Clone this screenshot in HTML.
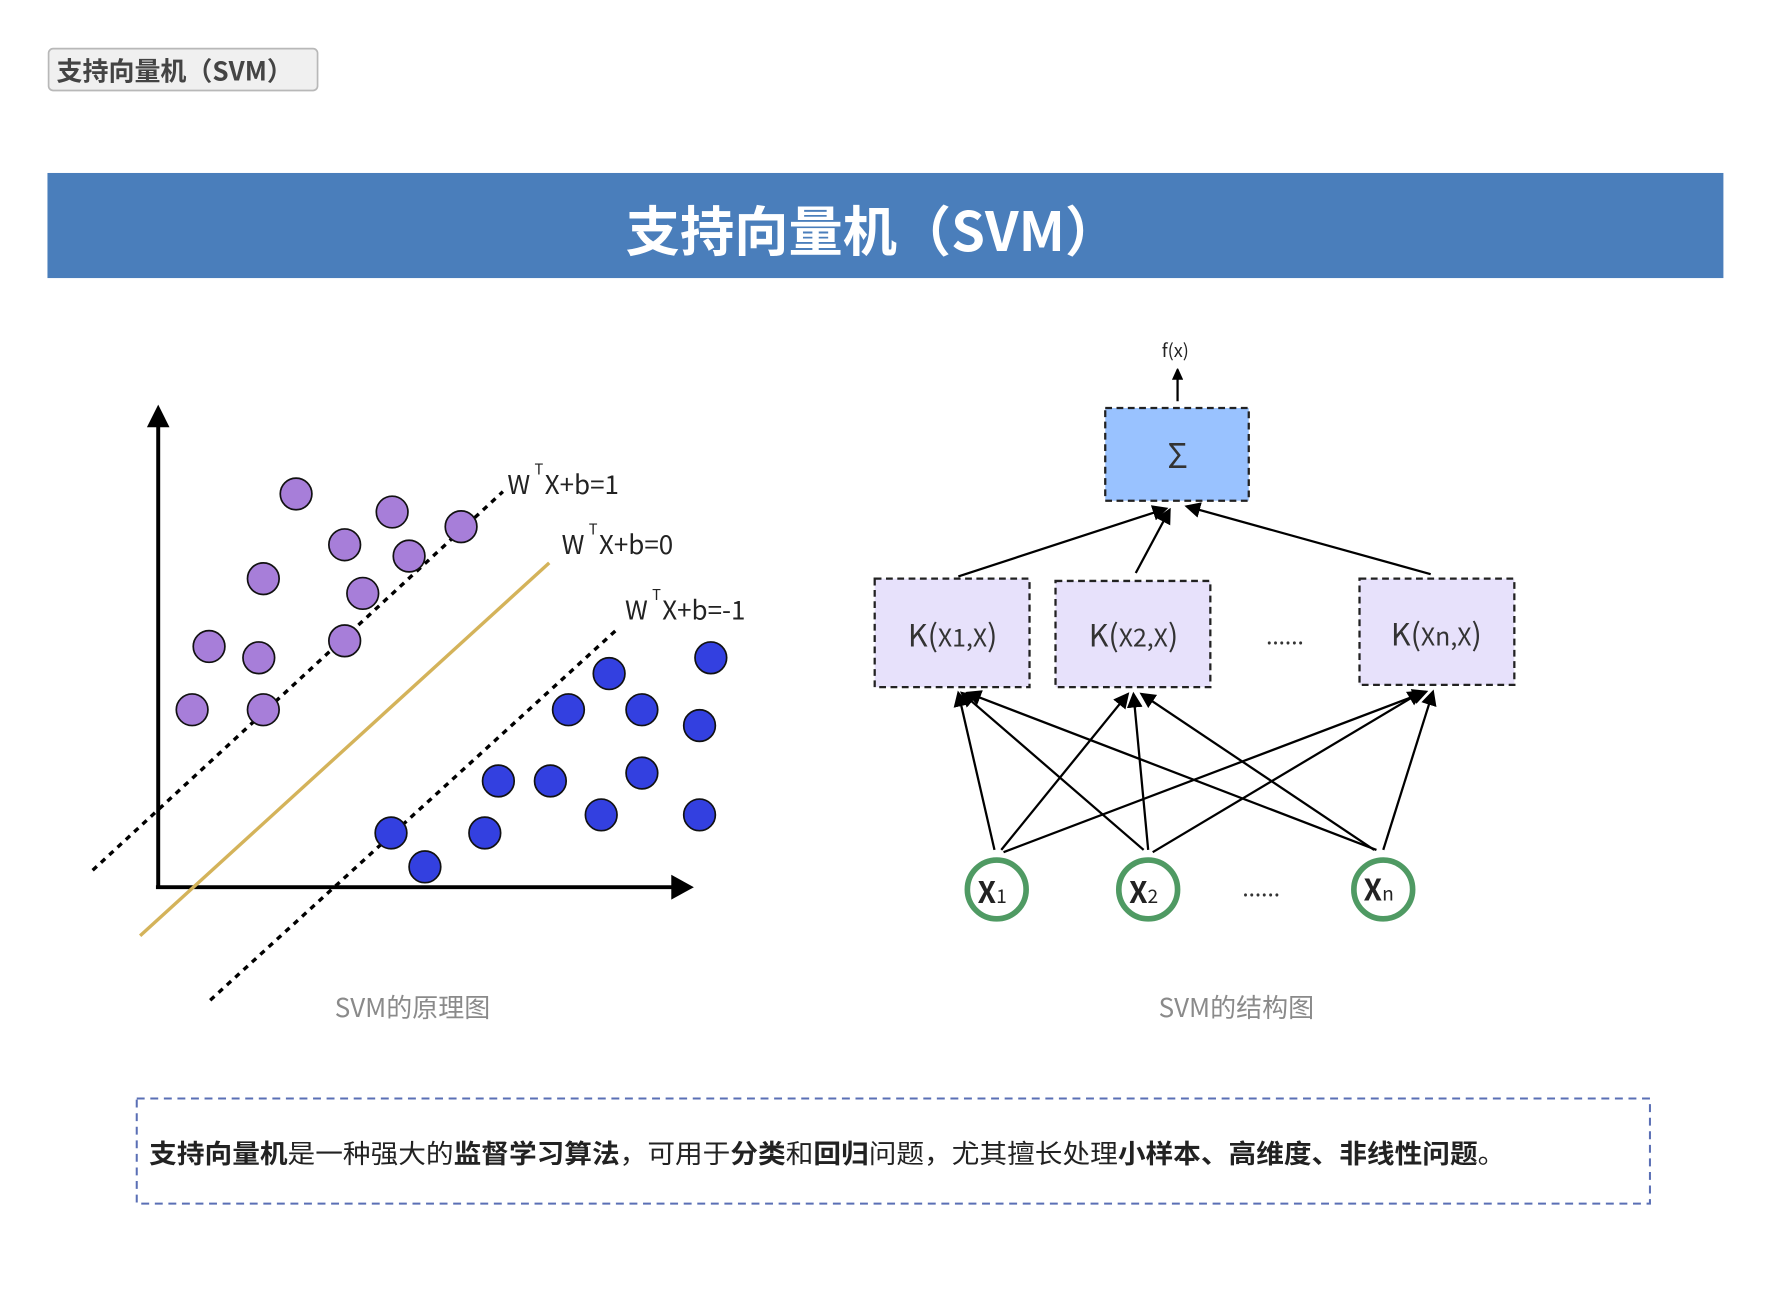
<!DOCTYPE html>
<html><head><meta charset="utf-8"><style>
html,body{margin:0;padding:0;background:#fff;}
svg{display:block;}
text{font-family:"Noto Sans CJK SC","Liberation Sans",sans-serif;}
</style></head><body>
<svg width="1772" height="1302" viewBox="0 0 1568 1152" xmlns="http://www.w3.org/2000/svg">
<defs>
<marker id="ah" markerWidth="10" markerHeight="10" refX="9" refY="5" orient="auto" markerUnits="userSpaceOnUse"><path d="M0,0 L11,5 L0,10 z" fill="#000"/></marker>
<marker id="ah2" markerWidth="14" markerHeight="14" refX="12" refY="7" orient="auto" markerUnits="userSpaceOnUse"><path d="M0,0 L14,7 L0,14 z" fill="#000"/></marker>
</defs>
<rect width="1568" height="1152" fill="#fff"/>
<rect x="43" y="43" width="238" height="37" rx="4" fill="#f0f0f0" stroke="#b8b8b8" stroke-width="1.5"/>
<text x="50" y="71" font-size="23" font-weight="bold" fill="#444">支持向量机（SVM）</text>
<rect x="42" y="153" width="1483" height="93" fill="#4a7ebb"/>
<text x="772" y="222" font-size="48" font-weight="bold" fill="#fff" text-anchor="middle">支持向量机（SVM）</text>
<line x1="140" y1="785" x2="140" y2="375" stroke="#000" stroke-width="3.5"/>
<path d="M130,378 L140,358 L150,378 z" fill="#000"/>
<line x1="138" y1="785" x2="596" y2="785" stroke="#000" stroke-width="3.5"/>
<path d="M594,774 L614,785 L594,796 z" fill="#000"/>
<line x1="82" y1="770" x2="445" y2="435" stroke="#000" stroke-width="3" stroke-dasharray="5,5"/>
<line x1="124" y1="828" x2="486" y2="498" stroke="#d4b35a" stroke-width="3"/>
<line x1="186" y1="885" x2="548" y2="555" stroke="#000" stroke-width="3" stroke-dasharray="5,5"/>
<g fill="#a77ed9" stroke="#111" stroke-width="1.5">
<circle cx="262" cy="437" r="14"/><circle cx="347" cy="453" r="14"/><circle cx="408" cy="466" r="14"/>
<circle cx="305" cy="482" r="14"/><circle cx="362" cy="492" r="14"/><circle cx="233" cy="512" r="14"/>
<circle cx="321" cy="525" r="14"/><circle cx="185" cy="572" r="14"/><circle cx="229" cy="582" r="14"/>
<circle cx="305" cy="567" r="14"/><circle cx="170" cy="628" r="14"/><circle cx="233" cy="628" r="14"/>
</g>
<g fill="#3340e0" stroke="#111" stroke-width="1.5">
<circle cx="629" cy="582" r="14"/><circle cx="539" cy="596" r="14"/><circle cx="503" cy="628" r="14"/>
<circle cx="568" cy="628" r="14"/><circle cx="619" cy="642" r="14"/><circle cx="441" cy="691" r="14"/>
<circle cx="487" cy="691" r="14"/><circle cx="568" cy="684" r="14"/><circle cx="532" cy="721" r="14"/>
<circle cx="619" cy="721" r="14"/><circle cx="346" cy="737" r="14"/><circle cx="429" cy="737" r="14"/>
<circle cx="376" cy="767" r="14"/>
</g>
<g font-size="23" fill="#222">
<text x="449" y="437">W</text><text x="473" y="420" font-size="13">T</text><text x="482" y="437">X+b=1</text>
<text x="497" y="490">W</text><text x="521" y="473" font-size="13">T</text><text x="530" y="490">X+b=0</text>
<text x="553" y="548">W</text><text x="577" y="531" font-size="13">T</text><text x="586" y="548">X+b=-1</text>
</g>
<text x="365" y="900" font-size="23" fill="#8a8a8a" text-anchor="middle">SVM的原理图</text>
<text x="1040" y="316" font-size="16" fill="#222" text-anchor="middle">f(x)</text>
<line x1="1042" y1="355" x2="1042" y2="327" stroke="#000" stroke-width="2" marker-end="url(#ah)"/>
<rect x="978" y="361" width="127" height="82" fill="#99c2ff" stroke="#222" stroke-width="2" stroke-dasharray="6,4"/>
<text x="1042" y="414" font-size="30" fill="#333" text-anchor="middle">Σ</text>
<rect x="774" y="512" width="137" height="96" fill="#e7e1fb" stroke="#222" stroke-width="2" stroke-dasharray="6,4"/>
<rect x="934" y="514" width="137" height="94" fill="#e7e1fb" stroke="#222" stroke-width="2" stroke-dasharray="6,4"/>
<rect x="1203" y="512" width="137" height="94" fill="#e7e1fb" stroke="#222" stroke-width="2" stroke-dasharray="6,4"/>
<g font-size="27" fill="#333" text-anchor="middle">
<text x="843" y="572">K(<tspan font-size="22">X1,X</tspan>)</text>
<text x="1003" y="572">K(<tspan font-size="22">X2,X</tspan>)</text>
<text x="1271" y="571">K(<tspan font-size="22">Xn,X</tspan>)</text>
</g>
<text x="1137" y="570" font-size="20" fill="#333" text-anchor="middle">......</text>
<g stroke="#000" stroke-width="2" fill="none">
<line x1="848" y1="510" x2="1032" y2="450" marker-end="url(#ah2)"/>
<line x1="1005" y1="507" x2="1035" y2="451" marker-end="url(#ah2)"/>
<line x1="1266" y1="508" x2="1050" y2="448" marker-end="url(#ah2)"/>
<line x1="880" y1="752" x2="848" y2="613" marker-end="url(#ah2)"/>
<line x1="886" y1="752" x2="998" y2="614" marker-end="url(#ah2)"/>
<line x1="888" y1="754" x2="1262" y2="612" marker-end="url(#ah2)"/>
<line x1="1012" y1="752" x2="851" y2="613" marker-end="url(#ah2)"/>
<line x1="1016" y1="752" x2="1003" y2="614" marker-end="url(#ah2)"/>
<line x1="1020" y1="754" x2="1258" y2="612" marker-end="url(#ah2)"/>
<line x1="1218" y1="752" x2="856" y2="613" marker-end="url(#ah2)"/>
<line x1="1216" y1="752" x2="1010" y2="614" marker-end="url(#ah2)"/>
<line x1="1224" y1="752" x2="1268" y2="612" marker-end="url(#ah2)"/>
</g>
<g fill="#fff" stroke="#4f9a63" stroke-width="5">
<circle cx="882" cy="787" r="26"/><circle cx="1016" cy="787" r="26"/><circle cx="1224" cy="787" r="26"/>
</g>
<g font-size="26" font-weight="bold" fill="#222" text-anchor="middle">
<text x="878" y="799">X<tspan font-size="17" font-weight="normal">1</tspan></text>
<text x="1012" y="799">X<tspan font-size="17" font-weight="normal">2</tspan></text>
<text x="1220" y="797">X<tspan font-size="17" font-weight="normal">n</tspan></text>
</g>
<text x="1116" y="793" font-size="20" fill="#333" text-anchor="middle">......</text>
<text x="1094" y="900" font-size="23" fill="#8a8a8a" text-anchor="middle">SVM的结构图</text>
<rect x="121" y="972" width="1339" height="93" fill="none" stroke="#5a6fb5" stroke-width="1.8" stroke-dasharray="7,5"/>
<text x="132" y="1029" font-size="23" fill="#222" textLength="1200" lengthAdjust="spacingAndGlyphs"><tspan font-weight="bold">支持向量机</tspan>是一种强大的<tspan font-weight="bold">监督学习算法</tspan>，可用于<tspan font-weight="bold">分类</tspan>和<tspan font-weight="bold">回归</tspan>问题，尤其擅长处理<tspan font-weight="bold">小样本、高维度、非线性问题</tspan>。</text>
</svg>
</body></html>
